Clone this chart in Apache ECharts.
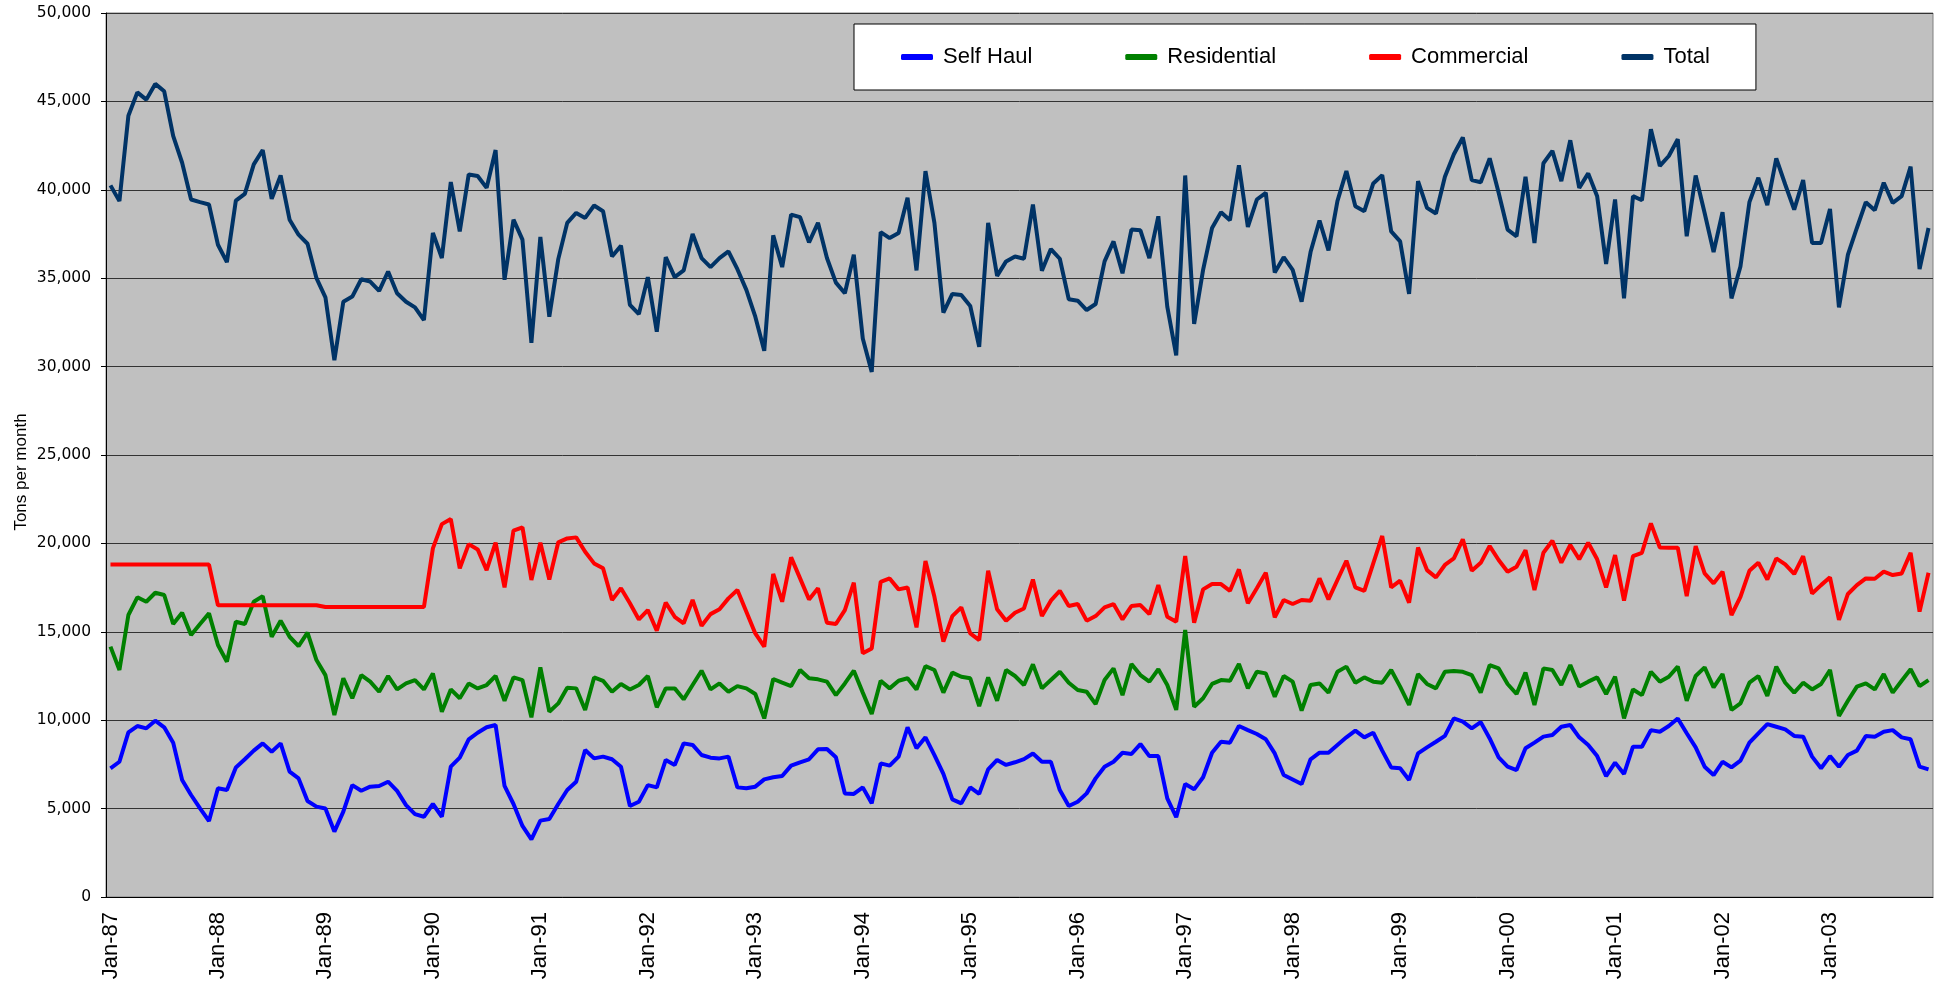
<!DOCTYPE html>
<html><head><meta charset="utf-8">
<script src="https://cdn.jsdelivr.net/npm/echarts@6/dist/echarts.min.js"></script>
<style>html,body{margin:0;padding:0;background:#fff}#chart{width:1946px;height:985px}</style>
</head><body><div id="chart"></div>
<script>
const monthNames = ['Jan','Feb','Mar','Apr','May','Jun','Jul','Aug','Sep','Oct','Nov','Dec'];
const years = ['87','88','89','90','91','92','93','94','95','96','97','98','99','00','01','02','03'];
const yTicks = [0,5000,10000,15000,20000,25000,30000,35000,40000,45000,50000];

const selfHaul = [
7280,7650,9310,9670,9540,9970,9600,8730,6620,5770,5010,4300,
6150,6050,7330,7790,8280,8690,8220,8690,7090,6710,5430,5110,
5010,3700,4830,6330,6010,6240,6280,6520,6000,5200,4690,4540,
5260,4540,7370,7880,8920,9290,9600,9730,6280,5260,4020,3260,
4320,4410,5260,6050,6520,8310,7840,7940,7790,7370,5150,5390,
6330,6200,7750,7470,8690,8600,8030,7880,7840,7940,6200,6150,
6240,6650,6770,6840,7430,7620,7790,8350,8370,7900,5860,5830,
6200,5300,7560,7430,7940,9600,8410,9030,8030,6960,5520,5300,
6200,5830,7220,7750,7470,7620,7800,8120,7650,7650,6050,5150,
5390,5860,6710,7370,7650,8160,8090,8650,7970,7970,5580,4510,
6390,6090,6770,8160,8780,8730,9670,9440,9220,8920,8120,6900,
6650,6390,7790,8160,8160,8600,9030,9410,9030,9290,8280,7330,
7280,6620,8120,8460,8780,9110,10100,9920,9540,9890,8970,7900,
7370,7180,8410,8730,9070,9160,9630,9730,9030,8600,7970,6840,
7600,6960,8500,8500,9440,9350,9670,10100,9260,8460,7370,6900,
7650,7330,7710,8730,9260,9780,9630,9480,9110,9070,7940,7280,
7970,7370,8030,8280,9110,9070,9350,9440,9030,8920,7370,7220];

const residential = [
14160,12840,15950,16950,16700,17210,17080,15440,16080,14820,15440,16040,
14250,13310,15570,15440,16700,17020,14720,15630,14720,14190,14950,13400,
12550,10290,12370,11240,12550,12180,11610,12500,11740,12080,12270,11740,
12650,10480,11740,11240,12080,11800,11990,12500,11100,12420,12270,10160,
12990,10480,10950,11830,11800,10580,12420,12230,11610,12050,11740,11990,
12500,10730,11800,11800,11180,11990,12800,11740,12080,11610,11930,11800,
11480,10100,12330,12120,11930,12840,12370,12310,12180,11420,12080,12800,
11560,10350,12230,11800,12230,12370,11740,13060,12840,11560,12690,12460,
12370,10800,12420,11100,12840,12500,11990,13160,11800,12270,12740,12120,
11710,11610,10910,12270,12930,11420,13180,12550,12180,12880,11990,10580,
15100,10760,11240,12050,12270,12230,13180,11800,12740,12650,11330,12500,
12180,10540,11990,12080,11560,12740,13030,12120,12420,12180,12120,12840,
11900,10860,12610,12050,11800,12740,12780,12740,12550,11560,13120,12930,
12050,11480,12690,10860,12930,12840,11990,13120,11900,12180,12420,11480,
12460,10100,11740,11420,12740,12180,12460,13030,11100,12500,12990,11860,
12610,10580,10950,12120,12500,11370,13030,12120,11560,12120,11740,12050,
12840,10240,11100,11900,12080,11740,12610,11560,12230,12880,11930,12270];

const commercial = [
18800,18800,18800,18800,18800,18800,18800,18800,18800,18800,18800,18800,
16500,16500,16500,16500,16500,16500,16500,16500,16500,16500,16500,16500,
16400,16400,16400,16400,16400,16400,16400,16400,16400,16400,16400,16400,
19720,21090,21380,18590,19960,19660,18490,20040,17510,20720,20910,17930,
20040,17960,20060,20280,20340,19530,18870,18590,16800,17460,16610,15700,
16230,15060,16650,15850,15480,16800,15340,16000,16270,16890,17360,16140,
14910,14160,18270,16700,19210,18020,16830,17460,15510,15440,16230,17780,
13780,14060,17830,18020,17400,17510,15250,19000,16980,14440,15890,16380,
14910,14530,18450,16270,15630,16080,16320,17960,15890,16760,17320,16460,
16570,15630,15890,16380,16570,15700,16460,16510,16000,17640,15850,15570,
19280,15510,17400,17700,17700,17320,18530,16610,17460,18340,15820,16800,
16570,16800,16760,18020,16830,17930,19020,17510,17320,18870,20420,17510,
17890,16650,19770,18490,18080,18780,19150,20230,18450,18900,19850,19060,
18400,18680,19620,17360,19470,20150,18910,19910,19100,20040,19100,17510,
19340,16760,19280,19470,21130,19770,19760,19760,17020,19850,18300,17740,
18400,15950,16980,18450,18910,17960,19150,18810,18270,19280,17170,17640,
18080,15670,17140,17640,18020,18000,18400,18210,18300,19470,16140,18340];

const total = [
40250,39360,44190,45510,45100,45990,45570,43050,41530,39450,39300,39170,
36890,35910,39390,39770,41440,42250,39490,40810,38310,37460,36950,35000,
33920,30360,33670,33960,34940,34810,34280,35380,34150,33670,33350,32630,
37560,36140,40440,37650,40870,40780,40110,42250,34910,38310,37180,31340,
37330,32820,36080,38130,38690,38410,39110,38790,36230,36840,33490,32970,
35060,31970,36190,35060,35440,37500,36140,35630,36140,36520,35510,34340,
32820,30890,37420,35630,38600,38450,37030,38130,36140,34750,34150,36330,
31590,29700,37610,37270,37560,39550,35440,41060,38130,33050,34110,34050,
33430,31120,38130,35130,35950,36230,36100,39170,35420,36650,36100,33810,
33730,33200,33540,35950,37080,35280,37750,37710,36140,38500,33390,30640,
40810,32410,35470,37840,38730,38280,41380,37900,39450,39830,35320,36190,
35470,33670,36480,38260,36570,39360,41060,39070,38790,40360,40830,37650,
37080,34110,40490,38980,38660,40740,42010,42960,40550,40430,41780,39830,
37750,37370,40740,36990,41500,42200,40490,42800,40110,40930,39640,35810,
39450,33860,39640,39410,43430,41350,41910,42860,37370,40810,38690,36480,
38730,33860,35660,39300,40680,39130,41780,40300,38880,40550,36990,36990,
38920,33350,36330,37840,39300,38850,40400,39260,39640,41310,35510,37840];

const seriesNames = ['Self Haul','Residential','Commercial','Total'];
const seriesColors = ['#0000FF','#008000','#FF0000','#003366'];
const seriesData = [selfHaul, residential, commercial, total];

const categories = [];
years.forEach(y => monthNames.forEach(m => categories.push(m + '-' + y)));

const chart = echarts.init(document.getElementById('chart'), null, {renderer: 'canvas'});
chart.setOption({
  animation: false,
  backgroundColor: '#ffffff',
  grid: {
    left: 106, right: 13, top: 13, bottom: 88,
    show: true, backgroundColor: '#C0C0C0', borderColor: '#808080', borderWidth: 1
  },
  legend: {
    data: seriesNames.map(n => ({ name: n, icon: 'roundRect' })),
    left: 854, top: 24,
    padding: [22, 46, 22, 47],
    backgroundColor: '#ffffff', borderColor: '#000000', borderWidth: 1,
    itemWidth: 32, itemHeight: 6, itemGap: 93,
    textStyle: { fontFamily: 'Liberation Sans, Arial, sans-serif', fontSize: 22, color: '#000', padding: [0,0,0,5] }
  },
  graphic: [{
    type: 'text', x: 21, y: 472, rotation: Math.PI / 2,
    style: { text: 'Tons per month', font: '17px "Liberation Sans", Arial, sans-serif', fill: '#000', align: 'center', verticalAlign: 'middle' }
  }],
  xAxis: {
    type: 'category', data: categories, boundaryGap: true,
    axisLine: { lineStyle: { color: '#000', width: 1 } },
    axisTick: { interval: 11, length: 6, lineStyle: { color: '#000' } },
    axisLabel: { interval: 11, rotate: 90, margin: 15, fontSize: 22, fontFamily: 'Liberation Sans, Arial, sans-serif', color: '#000', padding: [0,0,9,0] },
    splitLine: { show: false }
  },
  yAxis: {
    type: 'value', min: yTicks[0], max: yTicks[yTicks.length-1], interval: yTicks[1]-yTicks[0],
    axisLine: { show: true, lineStyle: { color: '#000', width: 1 } },
    axisTick: { show: true, length: 5, lineStyle: { color: '#000' } },
    axisLabel: { margin: 15, fontSize: 15.5, fontFamily: 'DejaVu Sans, Verdana, sans-serif', color: '#000',
      formatter: v => v.toLocaleString('en-US') },
    splitLine: { show: true, lineStyle: { color: '#333', width: 1 } }
  },
  series: seriesNames.map((n, k) => ({
    name: n, type: 'line', data: seriesData[k], symbol: 'none',
    lineStyle: { width: 4, color: seriesColors[k] },
    itemStyle: { color: seriesColors[k] }
  }))
});
</script></body></html>
